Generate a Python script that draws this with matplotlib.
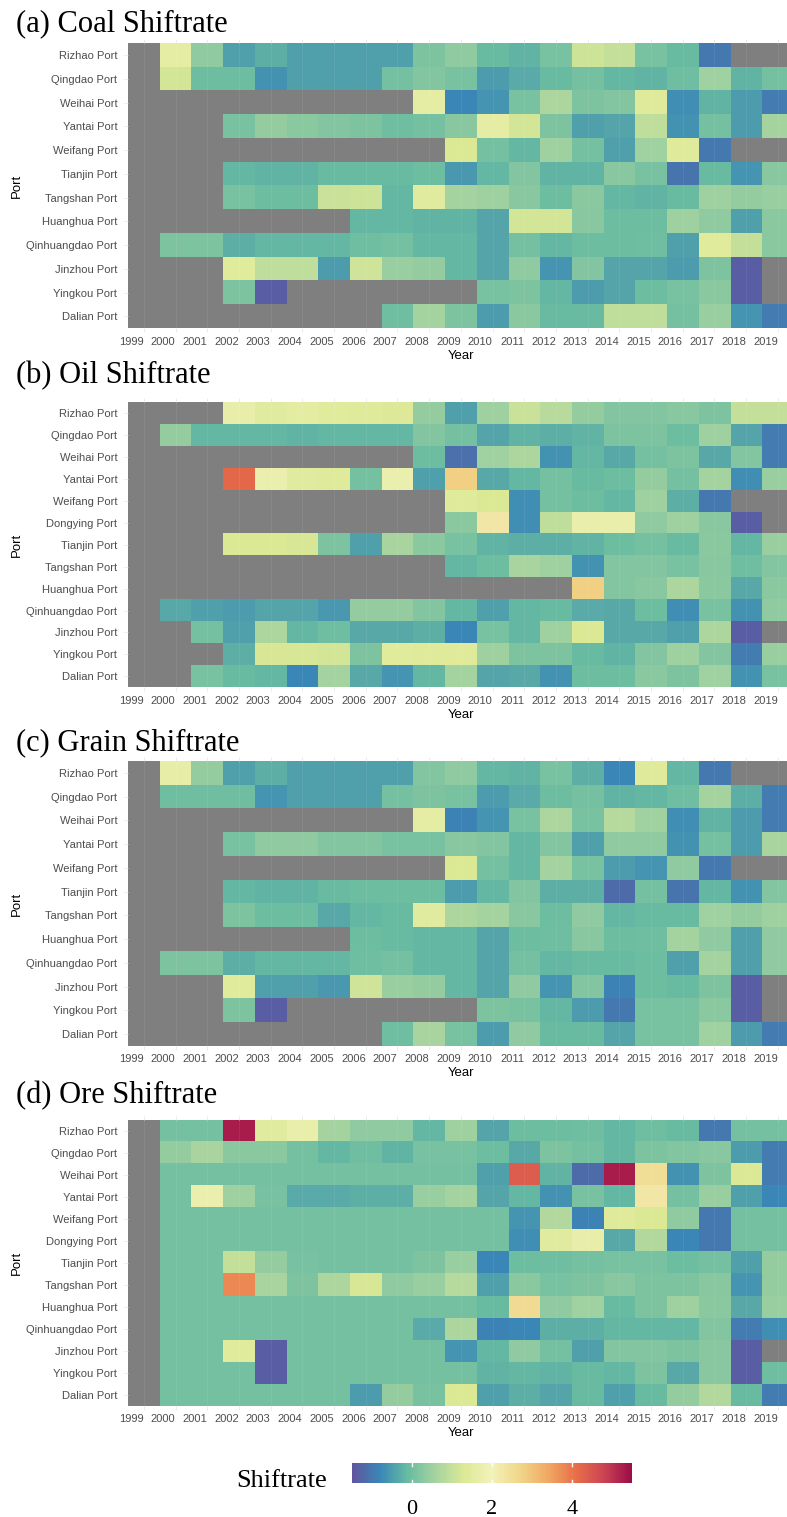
import numpy as np
import matplotlib
matplotlib.use('Agg')
import matplotlib.pyplot as plt
from matplotlib import colors

na = np.nan

years = list(range(1999, 2020))

# ---------------------------------------------------------------------------
# Shift rates per port and year (rows top to bottom, columns 1999..2019)
# ---------------------------------------------------------------------------

coalPorts = ['Rizhao Port', 'Qingdao Port', 'Weihai Port', 'Yantai Port', 'Weifang Port',
             'Tianjin Port', 'Tangshan Port', 'Huanghua Port', 'Qinhuangdao Port',
             'Jinzhou Port', 'Yingkou Port', 'Dalian Port']
coalRates = [
    [na, 1.6, 0.35, -0.45, -0.25, -0.45, -0.45, -0.45, -0.45, 0.15, 0.35, -0.1, -0.2, 0.1, 1.1, 1.0, 0.1, -0.1, -1.0, na, na],
    [na, 1.2, -0.05, -0.05, -0.65, -0.45, -0.45, -0.45, 0.05, 0.2, 0.1, -0.5, -0.3, -0.1, 0.05, -0.15, -0.2, 0.0, 0.55, -0.2, 0.05],
    [na, na, na, na, na, na, na, na, na, 1.6, -0.8, -0.6, 0.1, 0.7, 0.15, 0.2, 1.4, -0.7, -0.2, -0.5, -0.95],
    [na, na, na, 0.1, 0.4, 0.3, 0.2, 0.15, 0.0, 0.05, 0.25, 1.6, 1.2, 0.15, -0.45, -0.4, 0.95, -0.65, 0.05, -0.5, 0.6],
    [na, na, na, na, na, na, na, na, na, na, 1.3, 0.05, -0.15, 0.5, 0.05, -0.45, 0.55, 1.4, -1.0, na, na],
    [na, na, na, -0.15, -0.2, -0.2, -0.1, -0.1, -0.1, -0.05, -0.55, -0.15, 0.2, -0.2, -0.2, 0.25, 0.1, -1.05, -0.1, -0.6, 0.25],
    [na, na, na, 0.1, -0.05, -0.05, 1.05, 1.1, -0.15, 1.5, 0.6, 0.5, 0.25, -0.05, 0.3, -0.15, -0.2, -0.1, 0.5, 0.4, 0.45],
    [na, na, na, na, na, na, na, -0.15, -0.15, -0.2, -0.2, -0.4, 1.2, 1.2, 0.25, -0.05, -0.05, 0.5, 0.35, -0.45, 0.3],
    [na, 0.15, 0.15, -0.25, -0.15, -0.15, -0.15, 0.0, 0.05, -0.15, -0.15, -0.4, 0.05, -0.15, -0.05, -0.05, 0.0, -0.45, 1.45, 1.0, 0.3],
    [na, na, na, 1.45, 0.95, 0.95, -0.5, 1.15, 0.45, 0.4, -0.15, -0.4, 0.35, -0.6, 0.2, -0.4, -0.4, -0.5, 0.15, -1.35, na],
    [na, na, na, 0.15, -1.35, na, na, na, na, na, na, 0.1, 0.15, -0.15, -0.5, -0.4, -0.05, 0.1, 0.3, -1.35, na],
    [na, na, na, na, na, na, na, na, 0.0, 0.6, 0.15, -0.5, 0.3, -0.1, -0.1, 0.95, 0.95, 0.05, 0.45, -0.6, -0.95],
]

oilPorts = ['Rizhao Port', 'Qingdao Port', 'Weihai Port', 'Yantai Port', 'Weifang Port',
            'Dongying Port', 'Tianjin Port', 'Tangshan Port', 'Huanghua Port',
            'Qinhuangdao Port', 'Jinzhou Port', 'Yingkou Port', 'Dalian Port']
oilRates = [
    [na, na, na, 1.7, 1.5, 1.55, 1.45, 1.4, 1.35, 0.4, -0.45, 0.5, 1.05, 0.85, 0.4, 0.2, 0.2, 0.25, 0.15, 1.0, 1.0],
    [na, 0.4, -0.15, -0.15, -0.15, -0.2, -0.15, -0.15, -0.15, 0.2, 0.05, -0.4, -0.2, -0.25, -0.2, 0.15, 0.15, -0.05, 0.5, -0.4, -0.95],
    [na, na, na, na, na, na, na, na, na, -0.05, -1.1, 0.55, 0.7, -0.65, -0.15, -0.35, 0.05, 0.15, -0.35, 0.2, -0.95],
    [na, na, na, 4.2, 1.8, 1.5, 1.4, 0.05, 1.8, -0.45, 2.8, -0.35, -0.15, 0.05, -0.1, -0.05, 0.4, 0.05, 0.6, -0.7, 0.45],
    [na, na, na, na, na, na, na, na, na, na, 1.4, 1.3, -0.7, 0.05, -0.05, -0.15, 0.5, -0.25, -1.0, na, na],
    [na, na, na, na, na, na, na, na, na, na, 0.3, 2.3, -0.7, 0.95, 1.75, 1.75, 0.35, 0.5, 0.25, -1.35, na],
    [na, na, na, 1.3, 1.3, 1.25, 0.15, -0.45, 0.65, 0.3, 0.1, -0.2, -0.25, -0.25, -0.2, -0.05, 0.05, -0.1, 0.3, -0.15, 0.45],
    [na, na, na, na, na, na, na, na, na, na, -0.15, -0.05, 0.65, 0.5, -0.65, 0.2, 0.2, 0.1, 0.25, 0.0, 0.2],
    [na, na, na, na, na, na, na, na, na, na, na, na, na, na, 2.8, 0.2, 0.25, 0.7, 0.3, -0.35, 0.3],
    [na, -0.35, -0.45, -0.5, -0.4, -0.4, -0.55, 0.4, 0.4, 0.2, -0.15, -0.45, -0.15, -0.1, -0.3, -0.35, -0.05, -0.7, 0.1, -0.65, 0.35],
    [na, na, 0.05, -0.45, 0.7, -0.15, 0.0, -0.35, -0.35, -0.25, -0.8, 0.1, -0.15, 0.5, 1.3, -0.35, -0.35, -0.45, 0.7, -1.35, na],
    [na, na, na, -0.25, 1.25, 1.25, 1.2, 0.15, 1.45, 1.4, 1.4, 0.5, 0.15, 0.15, -0.1, -0.2, 0.2, 0.5, 0.2, -0.95, 0.45],
    [na, na, 0.1, -0.1, -0.15, -0.8, 0.6, -0.35, -0.6, -0.15, 0.6, -0.4, -0.35, -0.65, -0.05, -0.05, 0.3, 0.15, 0.55, -0.65, 0.1],
]

grainPorts = coalPorts
grainRates = [
    [na, 1.65, 0.4, -0.45, -0.25, -0.45, -0.45, -0.45, -0.45, 0.2, 0.35, -0.15, -0.2, 0.1, -0.25, -0.8, 1.4, -0.15, -1.0, na, na],
    [na, 0.0, 0.0, 0.0, -0.6, -0.45, -0.45, -0.45, 0.05, 0.15, 0.1, -0.5, -0.3, -0.05, 0.05, -0.2, -0.15, 0.0, 0.6, -0.25, -0.95],
    [na, na, na, na, na, na, na, na, na, 1.6, -0.85, -0.6, 0.1, 0.7, 0.1, 0.8, 0.55, -0.7, -0.2, -0.5, -0.95],
    [na, na, na, 0.1, 0.35, 0.35, 0.2, 0.2, 0.1, 0.1, 0.25, 0.2, -0.15, 0.2, -0.45, 0.35, 0.35, -0.65, 0.05, -0.5, 0.65],
    [na, na, na, na, na, na, na, na, na, na, 1.3, 0.05, -0.15, 0.6, 0.1, -0.5, -0.6, 0.35, -1.0, na, na],
    [na, na, na, -0.15, -0.2, -0.2, -0.1, -0.05, -0.05, -0.05, -0.5, -0.15, 0.2, -0.25, -0.25, -1.15, 0.05, -1.05, -0.15, -0.65, 0.2],
    [na, na, na, 0.15, -0.05, -0.05, -0.35, -0.15, -0.1, 1.5, 0.7, 0.6, 0.25, -0.05, 0.35, -0.15, -0.1, -0.1, 0.55, 0.4, 0.5],
    [na, na, na, na, na, na, na, -0.05, -0.1, -0.15, -0.15, -0.4, -0.05, 0.0, 0.25, -0.05, 0.0, 0.6, 0.35, -0.45, 0.35],
    [na, 0.15, 0.15, -0.25, -0.15, -0.15, -0.15, 0.0, 0.05, -0.15, -0.15, -0.4, 0.05, -0.15, -0.1, -0.1, -0.05, -0.45, 0.6, -0.45, 0.35],
    [na, na, na, 1.45, -0.45, -0.45, -0.55, 1.15, 0.45, 0.4, -0.15, -0.4, 0.35, -0.6, 0.2, -0.85, -0.05, -0.1, 0.15, -1.35, na],
    [na, na, na, 0.15, -1.35, na, na, na, na, na, na, 0.15, 0.1, -0.15, -0.5, -1.0, 0.1, 0.1, 0.3, -1.35, na],
    [na, na, na, na, na, na, na, na, 0.0, 0.65, 0.1, -0.5, 0.35, -0.1, -0.1, -0.4, 0.1, 0.1, 0.55, -0.5, -0.95],
]

orePorts = oilPorts
oreRates = [
    [na, 0.05, 0.05, 5.3, 1.5, 1.75, 0.6, 0.35, 0.35, -0.15, 0.5, -0.4, -0.05, -0.05, 0.0, -0.15, 0.0, -0.1, -1.0, 0.05, 0.05],
    [na, 0.4, 0.65, 0.3, 0.3, 0.05, -0.15, 0.0, -0.2, 0.1, 0.1, -0.05, -0.35, 0.15, 0.05, -0.15, 0.15, 0.2, 0.25, -0.5, -0.95],
    [na, 0.05, 0.05, 0.05, 0.05, 0.05, 0.05, 0.05, 0.05, 0.05, 0.05, -0.45, 4.4, -0.2, -1.15, 5.3, 2.5, -0.65, 0.15, 1.3, -0.95],
    [na, 0.05, 1.8, 0.5, 0.1, -0.3, -0.3, -0.25, -0.25, 0.45, 0.6, -0.4, -0.15, -0.65, 0.1, -0.15, 2.3, 0.05, 0.45, -0.45, -0.8],
    [na, 0.05, 0.05, 0.05, 0.05, 0.05, 0.05, 0.05, 0.05, 0.05, 0.05, 0.05, -0.6, 0.75, -0.85, 1.4, 1.3, 0.35, -1.0, 0.05, 0.05],
    [na, 0.05, 0.05, 0.05, 0.05, 0.05, 0.05, 0.05, 0.05, 0.05, 0.05, 0.05, -0.7, 1.5, 1.7, -0.35, 0.75, -0.8, -1.0, 0.05, 0.05],
    [na, 0.05, 0.05, 1.0, 0.4, 0.1, 0.05, 0.05, 0.05, 0.15, 0.45, -0.8, -0.05, 0.0, 0.05, 0.1, 0.1, -0.05, 0.05, -0.45, 0.4],
    [na, 0.05, 0.05, 3.8, 0.65, 0.15, 0.7, 1.25, 0.35, 0.45, 0.8, -0.45, 0.3, 0.1, 0.15, 0.25, 0.15, 0.15, 0.25, -0.6, 0.4],
    [na, 0.05, 0.05, 0.05, 0.05, 0.05, 0.05, 0.05, 0.05, 0.05, 0.05, -0.1, 2.6, 0.35, 0.55, -0.1, 0.15, 0.5, 0.3, -0.35, 0.45],
    [na, 0.05, 0.05, 0.05, 0.05, 0.05, 0.05, 0.05, 0.05, -0.3, 0.7, -0.85, -0.8, -0.25, -0.25, -0.15, -0.15, -0.15, 0.2, -0.95, -0.7],
    [na, 0.05, 0.05, 1.45, -1.35, 0.05, 0.05, 0.05, 0.05, 0.05, -0.6, -0.15, 0.35, 0.05, -0.45, 0.2, 0.2, 0.15, 0.25, -1.35, na],
    [na, 0.05, 0.05, 0.05, -1.35, 0.05, 0.05, 0.05, 0.05, 0.05, 0.05, -0.2, -0.15, -0.2, -0.1, -0.15, 0.15, -0.35, 0.25, -1.35, 0.0],
    [na, 0.05, 0.05, 0.05, 0.05, 0.05, 0.05, -0.5, 0.4, 0.1, 1.3, -0.45, -0.25, -0.4, -0.1, -0.45, -0.1, 0.4, 0.75, -0.1, -0.95],
]

colorbarTicks = [0, 2, 4]

##################################################################################################################################
#
##################################################################################################################################

FIG_W, FIG_H = 787, 1517
SANS = 'Liberation Sans'
SERIF = 'Liberation Serif'

plt.rcParams['font.family'] = SANS

# Spectral palette, toned down a little towards grey
spectral = plt.get_cmap('Spectral_r')(np.linspace(0, 1, 256))
spectral[:, :3] = 0.9 * spectral[:, :3] + 0.1 * 0.5
cmap = colors.ListedColormap(spectral)
cmap.set_bad('#7f7f7f')
norm = colors.Normalize(vmin=-1.5, vmax=5.5)


def PxRect(left, top, right, bottom):
    # pixel box (from top-left) -> figure fraction rect
    return [left / FIG_W, 1 - bottom / FIG_H, (right - left) / FIG_W, (bottom - top) / FIG_H]


def FigY(py):
    return 1 - py / FIG_H


def DrawShiftratePanel(fig, title, ports, rates, top, bottom, titleBaseline):
    left, right = 128, 793.7
    ax = fig.add_axes(PxRect(left, top, right, bottom))

    grid = np.ma.masked_invalid(np.array(rates, dtype=float))
    im = ax.imshow(grid, cmap=cmap, norm=norm, aspect='auto', interpolation='nearest')

    # faint panel grid showing through the tiles
    for x in range(len(years)):
        ax.axvline(x, color='white', lw=0.6, alpha=0.08)

    ax.set_xticks(range(len(years)), labels=[str(y) for y in years], ha='right')
    ax.set_yticks(range(len(ports)), labels=ports)
    ax.tick_params(axis='both', length=3, width=0.5, color='#e3e3e3',
                   labelsize=8, labelcolor='#4d4d4d')
    ax.tick_params(axis='x', pad=3, top=True)
    ax.tick_params(axis='y', pad=4.8)
    for s in ax.spines.values():
        s.set_visible(False)

    midY = (top + bottom) / 2
    fig.text(17 / FIG_W, FigY(midY), 'Port', rotation=90, ha='center', va='center', fontsize=9.5)
    fig.text((left + right) / 2 / FIG_W, FigY(bottom + 21.5), 'Year', ha='center', va='top', fontsize=9.5)
    fig.text(16.5 / FIG_W, FigY(titleBaseline), title, ha='left', va='baseline',
             fontsize=22, family=SERIF)
    return im


fig = plt.figure(figsize=(FIG_W / 100, FIG_H / 100), dpi=100)

im = DrawShiftratePanel(fig, '(a) Coal Shiftrate', coalPorts, coalRates, 43.3, 328.3, 31.7)
DrawShiftratePanel(fig, '(b) Oil Shiftrate', oilPorts, oilRates, 402.3, 687.3, 383.3)
DrawShiftratePanel(fig, '(c) Grain Shiftrate', grainPorts, grainRates, 761, 1046, 750.5)
DrawShiftratePanel(fig, '(d) Ore Shiftrate', orePorts, oreRates, 1120, 1406, 1103.3)

# colour bar legend
cax = fig.add_axes(PxRect(351.7, 1462.7, 631.7, 1483.3))
cb = fig.colorbar(im, cax=cax, orientation='horizontal')
cb.outline.set_visible(False)
cax.set_xticks([])
for v in colorbarTicks:
    cax.axvline(v, ymin=0, ymax=0.16, color='white', lw=1)
    cax.axvline(v, ymin=0.84, ymax=1, color='white', lw=1)
    cax.text(v, -(1514 - 1483.3) / 20.6, str(v), transform=cax.get_xaxis_transform(),
             ha='center', va='baseline', fontsize=16, family=SERIF)
fig.text(236 / FIG_W, FigY(1486.7), 'Shiftrate', ha='left', va='baseline', fontsize=19, family=SERIF)

fig.savefig('out.png', dpi=100)
plt.close(fig)
